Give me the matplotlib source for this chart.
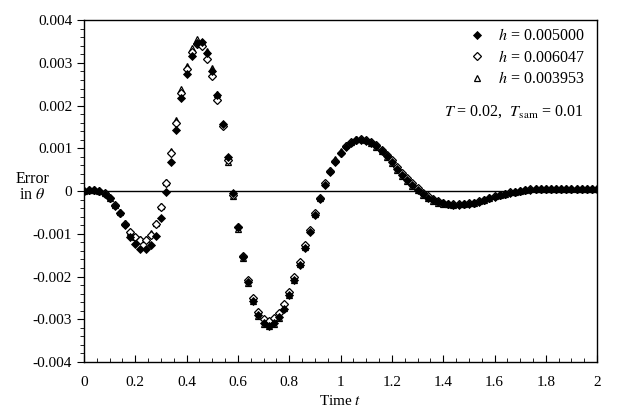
import numpy as np
import matplotlib
matplotlib.use("Agg")
import matplotlib.pyplot as plt
from matplotlib.ticker import MultipleLocator

plt.rcParams["font.family"] = ["Liberation Serif", "DejaVu Serif"]
plt.rcParams["mathtext.fontset"] = "stix"

# sample times (every 0.02 s)
t = np.round(np.arange(0, 2.0001, 0.02), 2)

# error in theta (units of 1e-3)
err_h5000 = np.array([
    0.00, 0.03, 0.03, 0.00, -0.06, -0.17, -0.35, -0.52, -0.80, -1.07,
    -1.24, -1.35, -1.35, -1.27, -1.05, -0.62, -0.03, 0.69, 1.43, 2.17,
    2.74, 3.16, 3.46, 3.50, 3.24, 2.82, 2.25, 1.57, 0.80, -0.04,
    -0.84, -1.54, -2.12, -2.57, -2.90, -3.08, -3.16, -3.08, -2.94, -2.75,
    -2.44, -2.08, -1.73, -1.34, -0.95, -0.55, -0.19, 0.14, 0.44, 0.67,
    0.88, 1.04, 1.13, 1.19, 1.20, 1.18, 1.13, 1.06, 0.95, 0.82,
    0.68, 0.52, 0.38, 0.26, 0.14, 0.03, -0.07, -0.15, -0.21, -0.26,
    -0.29, -0.31, -0.32, -0.32, -0.31, -0.30, -0.28, -0.25, -0.21, -0.17,
    -0.13, -0.10, -0.07, -0.04, -0.02, 0.00, 0.02, 0.03, 0.04, 0.04,
    0.05, 0.04, 0.05, 0.04, 0.05, 0.04, 0.05, 0.04, 0.05, 0.04,
    0.04,
]) * 1e-3

err_h6047 = np.array([
    0.00, 0.02, 0.03, 0.01, -0.05, -0.15, -0.33, -0.51, -0.76, -0.96,
    -1.08, -1.14, -1.14, -1.02, -0.76, -0.37, 0.18, 0.88, 1.60, 2.30,
    2.85, 3.25, 3.45, 3.40, 3.10, 2.70, 2.13, 1.52, 0.72, -0.10,
    -0.85, -1.52, -2.08, -2.50, -2.82, -2.99, -3.03, -2.98, -2.86, -2.64,
    -2.36, -2.02, -1.65, -1.27, -0.90, -0.52, -0.16, 0.18, 0.48, 0.71,
    0.90, 1.05, 1.14, 1.19, 1.21, 1.19, 1.14, 1.07, 0.97, 0.85,
    0.72, 0.57, 0.43, 0.30, 0.18, 0.07, -0.04, -0.12, -0.19, -0.24,
    -0.28, -0.30, -0.31, -0.31, -0.30, -0.29, -0.27, -0.24, -0.20, -0.16,
    -0.12, -0.09, -0.06, -0.03, -0.01, 0.01, 0.03, 0.04, 0.04, 0.05,
    0.04, 0.05, 0.04, 0.05, 0.04, 0.05, 0.04, 0.05, 0.04, 0.05,
    0.04,
]) * 1e-3

err_h3953 = np.array([
    0.00, 0.03, 0.03, 0.01, -0.05, -0.15, -0.32, -0.50, -0.74, -0.95,
    -1.07, -1.13, -1.13, -0.99, -0.74, -0.35, 0.22, 0.94, 1.66, 2.38,
    2.93, 3.34, 3.55, 3.50, 3.29, 2.87, 2.27, 1.57, 0.69, -0.12,
    -0.88, -1.56, -2.14, -2.58, -2.92, -3.10, -3.15, -3.10, -2.98, -2.74,
    -2.44, -2.08, -1.70, -1.30, -0.92, -0.53, -0.16, 0.20, 0.50, 0.74,
    0.93, 1.07, 1.16, 1.21, 1.22, 1.19, 1.13, 1.04, 0.93, 0.80,
    0.65, 0.50, 0.36, 0.23, 0.12, 0.02, -0.08, -0.16, -0.22, -0.27,
    -0.30, -0.31, -0.32, -0.31, -0.30, -0.29, -0.27, -0.24, -0.20, -0.16,
    -0.12, -0.09, -0.06, -0.03, -0.01, 0.01, 0.03, 0.04, 0.05, 0.04,
    0.05, 0.04, 0.05, 0.04, 0.05, 0.04, 0.05, 0.04, 0.05, 0.04,
    0.05,
]) * 1e-3

labels = ["$h$ = 0.005000", "$h$ = 0.006047", "$h$ = 0.003953"]

fig = plt.figure(figsize=(6.19, 4.20), dpi=100)
ax = fig.add_axes([0.1357, 0.138, 0.829, 0.814])

l3, = ax.plot(t, err_h3953, linestyle="none", marker="^", markersize=5,
              mfc="white", mec="black", mew=0.9)
l2, = ax.plot(t, err_h6047, linestyle="none", marker="D", markersize=3.6,
              mfc="white", mec="black", mew=0.9)
l1, = ax.plot(t, err_h5000, linestyle="none", marker="D", markersize=3.6,
              mfc="black", mec="black", mew=0.6)

ax.axhline(0, color="black", linewidth=1.0, zorder=0)

ax.set_xlim(0, 2)
ax.set_ylim(-0.004, 0.004)
ax.xaxis.set_major_locator(MultipleLocator(0.2))
ax.xaxis.set_minor_locator(MultipleLocator(0.05))
ax.yaxis.set_major_locator(MultipleLocator(0.001))
ax.yaxis.set_minor_locator(MultipleLocator(0.0002))
ax.set_xticklabels([("%g" % v) for v in ax.get_xticks()])
ax.set_yticklabels([("%g" % v) if abs(v) > 1e-12 else "0" for v in ax.get_yticks()])

ax.tick_params(axis="x", which="major", direction="in", length=5, labelsize=11, pad=10)
ax.tick_params(axis="x", which="minor", direction="in", length=3)
ax.tick_params(axis="y", which="major", direction="out", length=5, labelsize=11)
ax.tick_params(axis="y", which="minor", direction="out", length=3)
for sp in ax.spines.values():
    sp.set_linewidth(1.0)

ax.set_xlabel("Time $t$", fontsize=11, labelpad=4)
fig.text(0.052, 0.555, "Error\nin $\\theta$", ha="center", va="center",
         fontsize=11.5, linespacing=1.0)

ax.legend([l1, l2, l3], labels, loc="upper right", frameon=False,
          fontsize=11.5, handlelength=1.0, handletextpad=0.8,
          labelspacing=0.35, borderaxespad=0.1, bbox_to_anchor=(0.99, 1.0))

ax.text(0.973, 0.731, "$T$ = 0.02,  $T_{\\rm sam}$ = 0.01", transform=ax.transAxes,
        ha="right", va="center", fontsize=11.5)

fig.savefig("out.png", dpi=100)
